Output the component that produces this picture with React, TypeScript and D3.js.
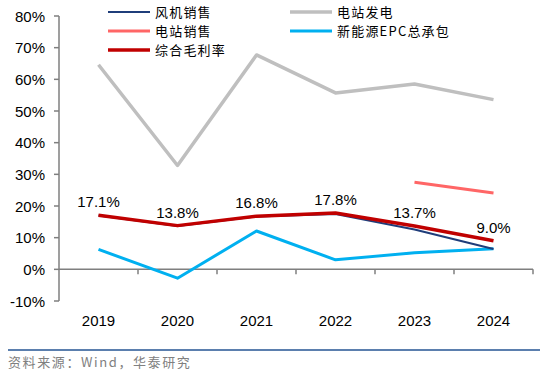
import React from 'react';
import * as d3 from 'd3';

const years = ['2019', '2020', '2021', '2022', '2023', '2024'];
const windSales = [17.0, 13.7, 16.7, 17.5, 12.6, 6.4];
const stationSales = [null, null, null, null, 27.5, 24.1];
const powerGen = [64.6, 32.8, 67.7, 55.7, 58.5, 53.6];
const epc = [6.3, -2.8, 12.1, 3.0, 5.2, 6.5];
const overall = [17.1, 13.8, 16.8, 17.8, 13.7, 9.0];
const yTicks = [-10, 0, 10, 20, 30, 40, 50, 60, 70, 80];

const width = 541;
const height = 374;

const series = [
  { name: '电站发电', values: powerGen, color: '#BFBFBF', w: 3.5 },
  { name: '电站销售', values: stationSales, color: '#FF6666', w: 3 },
  { name: '新能源EPC总承包', values: epc, color: '#00B0F0', w: 3 },
  { name: '风机销售', values: windSales, color: '#1F3D7A', w: 2 },
  { name: '综合毛利率', values: overall, color: '#C00000', w: 3.5 },
];

const legendItems = [
  { name: '风机销售', color: '#1F3D7A', w: 2, x: 108, y: 12 },
  { name: '电站销售', color: '#FF6666', w: 3, x: 108, y: 31 },
  { name: '综合毛利率', color: '#C00000', w: 3.5, x: 108, y: 50 },
  { name: '电站发电', color: '#BFBFBF', w: 3.5, x: 290, y: 12 },
  { name: '新能源EPC总承包', color: '#00B0F0', w: 3, x: 290, y: 31 },
];

const App = () => {
  const x = d3.scaleBand().domain(years).range([59, 533]);
  const y = d3.scaleLinear().domain([-10, 80]).range([301, 16]);
  const cx = (i: number) => (x(years[i]) as number) + x.bandwidth() / 2;

  const line = d3
    .line<number | null>()
    .defined(d => d !== null)
    .x((_, i) => cx(i))
    .y(d => y(d as number));

  const axisColor = '#7F7F7F';
  const numFont = '"Liberation Sans", Arial, sans-serif';
  const cjkFont = '"Noto Sans CJK SC", sans-serif';

  return (
    <svg width={width} height={height} style={{ position: 'absolute', left: 0, top: 0 }}>
      <rect width={width} height={height} fill="#fff" />
      {/* y axis */}
      <line x1={59} x2={59} y1={y(80)} y2={y(-10)} stroke={axisColor} strokeWidth={1.5} />
      {yTicks.map(t => (
        <g key={t} transform={`translate(0, ${y(t)})`}>
          <line x1={54} x2={59} stroke={axisColor} strokeWidth={1.5} />
          <text x={45} dy="5.5" textAnchor="end" fontSize={15} fontFamily={numFont} fill="#000">
            {t}%
          </text>
        </g>
      ))}
      {/* x axis at 0 */}
      <line x1={59} x2={533} y1={y(0)} y2={y(0)} stroke={axisColor} strokeWidth={1.5} />
      {years.map((yr, i) => (
        <g key={yr}>
          <line
            x1={(x(yr) as number) + x.bandwidth()}
            x2={(x(yr) as number) + x.bandwidth()}
            y1={y(0)}
            y2={y(0) + 5}
            stroke={axisColor}
            strokeWidth={1.5}
          />
          <text x={cx(i)} y={326} textAnchor="middle" fontSize={15} fontFamily={numFont} fill="#000">
            {yr}
          </text>
        </g>
      ))}
      {series.map(s => (
        <path
          key={s.name}
          d={line(s.values) as string}
          fill="none"
          stroke={s.color}
          strokeWidth={s.w}
          strokeLinejoin="round"
        />
      ))}
      {overall.map((v, i) => (
        <text
          key={i}
          x={cx(i)}
          y={y(v) - 8}
          textAnchor="middle"
          fontSize={15}
          fontFamily={numFont}
          fill="#000"
        >
          {v.toFixed(1)}%
        </text>
      ))}
      {legendItems.map(l => (
        <g key={l.name}>
          <line x1={l.x} x2={l.x + 42} y1={l.y} y2={l.y} stroke={l.color} strokeWidth={l.w} />
          <text x={l.x + 47} y={l.y + 5} fontSize={13} letterSpacing={1.2} fontFamily={cjkFont} fill="#000">
            {l.name}
          </text>
        </g>
      ))}
      <line x1={8} x2={540} y1={350} y2={350} stroke="#5B7FAE" strokeWidth={2} />
      <text x={8} y={367} fontSize={13} letterSpacing={1.6} fontFamily={cjkFont} fill="#808080">
        资料来源：Wind，华泰研究
      </text>
    </svg>
  );
};

export default App;
